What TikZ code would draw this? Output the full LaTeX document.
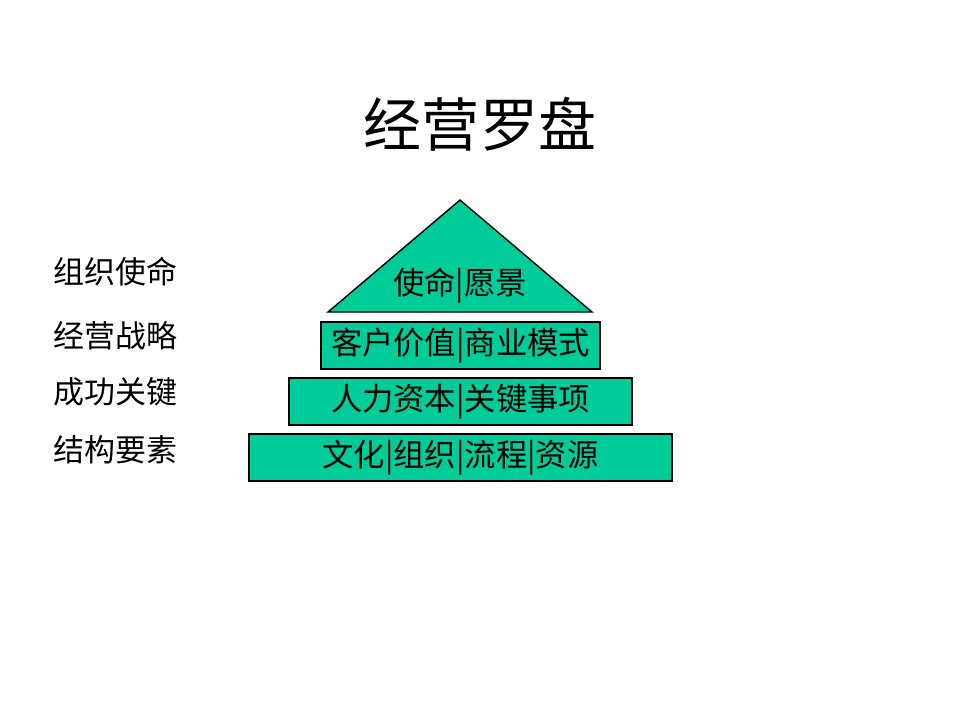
\documentclass[tikz,border=0pt]{standalone}
\usepackage{fontspec}
\newfontfamily\cjk{Noto Sans CJK SC}
\definecolor{pyrgreen}{RGB}{0,204,153}
\begin{document}
\begin{tikzpicture}[x=0.01cm,y=-0.01cm]
    \useasboundingbox (0,0) rectangle (960,720);
    \node (title) at (480,124) {\cjk\fontsize{16.5pt}{18pt}\selectfont 经营罗盘};
    \begin{scope}
        \tikzstyle{every node}=[anchor=west, inner sep=0pt, text=black, font=\cjk\fontsize{8.8pt}{10pt}\selectfont]
        \node (mission) at (53,272) {组织使命};
        \node (strategy) at (53,336) {经营战略};
        \node (success) at (53,392) {成功关键};
        \node (structure) at (53,450) {结构要素};
    \end{scope}
    \draw[fill=pyrgreen, draw=black, line width=0.4pt] (460,200) -- (592,312) -- (328,312) -- cycle;
    \begin{scope}
        \tikzstyle{every node}=[fill=pyrgreen, draw=black, line width=0.4pt, rectangle, minimum height=0.47cm, inner sep=0pt, text=black, font=\cjk\fontsize{8.9pt}{10pt}\selectfont]
        \node[fill=none, draw=none] (vision) at (460,286) {使命|愿景};
        \node[minimum width=2.79cm] (value) at (460.5,345.5) {客户价值|商业模式};
        \node[minimum width=3.43cm] (capital) at (460.5,401.5) {人力资本|关键事项};
        \node[minimum width=4.23cm] (culture) at (460.5,457.5) {文化|组织|流程|资源};
    \end{scope}
\end{tikzpicture}
\end{document}
